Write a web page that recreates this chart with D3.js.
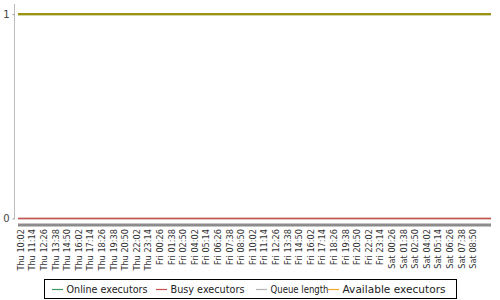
<!DOCTYPE html>
<html><head><meta charset="utf-8">
<script src="https://cdn.jsdelivr.net/npm/d3@7"></script>
<style>html,body{margin:0;padding:0;background:#fff;}svg{display:block;}</style>
</head><body><svg id="c" width="500" height="300"></svg>
<script>
const tickLabels = ["Thu 10:02","Thu 11:14","Thu 12:26","Thu 13:38","Thu 14:50","Thu 16:02","Thu 17:14","Thu 18:26","Thu 19:38","Thu 20:50","Thu 22:02","Thu 23:14",
"Fri 00:26","Fri 01:38","Fri 02:50","Fri 04:02","Fri 05:14","Fri 06:26","Fri 07:38","Fri 08:50","Fri 10:02","Fri 11:14","Fri 12:26","Fri 13:38","Fri 14:50","Fri 16:02","Fri 17:14","Fri 18:26","Fri 19:38","Fri 20:50","Fri 22:02","Fri 23:14",
"Sat 00:26","Sat 01:38","Sat 02:50","Sat 04:02","Sat 05:14","Sat 06:26","Sat 07:38","Sat 08:50"];
const sampleTimes = ["Thu 09:45", ...tickLabels, "Sat 10:41"];
const onlineExecutors    = [1,1,1,1,1,1,1,1,1,1,1,1,1,1,1,1,1,1,1,1,1,1,1,1,1,1,1,1,1,1,1,1,1,1,1,1,1,1,1,1,1,1];
const busyExecutors      = [0,0,0,0,0,0,0,0,0,0,0,0,0,0,0,0,0,0,0,0,0,0,0,0,0,0,0,0,0,0,0,0,0,0,0,0,0,0,0,0,0,0];
const queueLength        = [0,0,0,0,0,0,0,0,0,0,0,0,0,0,0,0,0,0,0,0,0,0,0,0,0,0,0,0,0,0,0,0,0,0,0,0,0,0,0,0,0,0];
const availableExecutors = [1,1,1,1,1,1,1,1,1,1,1,1,1,1,1,1,1,1,1,1,1,1,1,1,1,1,1,1,1,1,1,1,1,1,1,1,1,1,1,1,1,1];
const yTicks = [0, 1];
const seriesNames = ["Online executors","Busy executors","Queue length","Available executors"];
const seriesColors = ["#3f9a66","#c8504e","#b4b4b4","#f0a830"];

const dayIdx = {Thu:0, Fri:1, Sat:2};
function toMin(s){ const [d,t]=s.split(" "); const [h,m]=t.split(":").map(Number); return dayIdx[d]*1440+h*60+m; }

const svg = d3.select("#c");
const x = d3.scaleLinear().domain([toMin(sampleTimes[0]), toMin(sampleTimes[sampleTimes.length-1])]).range([18, 491]);
const y = d3.scaleLinear().domain([0, 1.05]).range([218.5, 4]);

// y axis
const yAxis = d3.axisLeft(y).tickValues(yTicks).tickSize(2).tickPadding(3).tickFormat(d3.format("d"));
const gy = svg.append("g").attr("transform","translate(14.5,0)").call(yAxis);
gy.select(".domain").attr("stroke","#bdbdbd").attr("d","M0,4V219");
gy.selectAll(".tick line").attr("stroke","#999");
gy.selectAll("text").attr("fill","#444").style("font-family","DejaVu Sans").style("font-size","10px");

// x axis line (thick gray) and rotated labels
const xAxis = d3.axisBottom(x).tickValues(tickLabels.map(toMin)).tickSize(0).tickPadding(0).tickFormat((d,i)=>tickLabels[i]);
const gx = svg.append("g").attr("transform","translate(0,225)").call(xAxis);
gx.select(".domain").attr("stroke","#8c8c8c").attr("stroke-width",3).attr("d","M18,0H491");
gx.selectAll(".tick text")
  .attr("transform","rotate(-90)")
  .attr("x",-4).attr("y",0).attr("dy","0.32em")
  .attr("text-anchor","end")
  .attr("fill","#333")
  .style("font-family","DejaVu Sans").style("font-size","8.2px");

// lines
const line = d3.line().x((d,i)=>x(toMin(sampleTimes[i]))).y(d=>y(d));
svg.append("path").datum(queueLength).attr("d",line).attr("fill","none").attr("stroke",seriesColors[2]).attr("stroke-width",1.5);
svg.append("path").datum(busyExecutors).attr("d",line).attr("fill","none").attr("stroke",seriesColors[1]).attr("stroke-width",1.5);
svg.append("path").datum(onlineExecutors).attr("d",line).attr("fill","none").attr("stroke","#3a8a2a").attr("stroke-width",2.2);
svg.append("path").datum(availableExecutors).attr("d",line).attr("fill","none").attr("stroke","#e09a00").attr("stroke-opacity",0.6).attr("stroke-width",2.2);

// legend
const lg = svg.append("g");
lg.append("rect").attr("x",44.5).attr("y",279.5).attr("width",412).attr("height",19).attr("fill","#fff").attr("stroke","#000");
const itemX = [52, 156, 256, 328];
const textW = [81, 74, 58, 103];
seriesNames.forEach((n,i)=>{
  lg.append("line").attr("x1",itemX[i]).attr("x2",itemX[i]+11).attr("y1",289.5).attr("y2",289.5).attr("stroke",seriesColors[i]).attr("stroke-width",1.2);
  lg.append("text").attr("x",itemX[i]+14.5).attr("y",289.5).attr("dy","0.35em").text(n)
    .attr("textLength",textW[i]).attr("lengthAdjust","spacingAndGlyphs")
    .attr("fill","#222").style("font-family","DejaVu Sans").style("font-size","9.6px");
});
</script></body></html>
